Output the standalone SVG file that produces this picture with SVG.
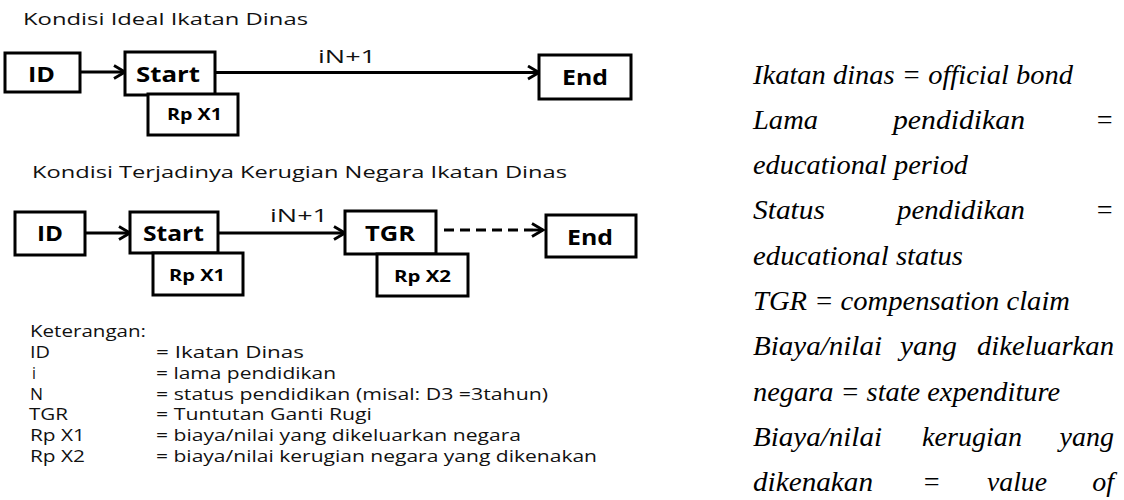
<svg xmlns="http://www.w3.org/2000/svg" width="1124" height="500" viewBox="0 0 1124 500">
<style>
.box{fill:#fff;stroke:#000;stroke-width:3}
.lbl{font-family:"Open Sans","DejaVu Sans",sans-serif;font-weight:bold;fill:#000}
.t{font-family:"Open Sans","DejaVu Sans",sans-serif;fill:#111}
.leg{font-family:"Open Sans","DejaVu Sans",sans-serif;font-size:15.5px;fill:#111}
.it{font-family:"Liberation Serif","DejaVu Serif",serif;font-style:italic;font-size:28px;fill:#000}
.conn{stroke:#000;stroke-width:2.8;fill:none}
.dash{stroke-dasharray:10 6}
</style>
<defs>
<marker id="arr" markerUnits="userSpaceOnUse" markerWidth="16" markerHeight="16" viewBox="0 0 16 16" refX="14" refY="8" orient="auto">
<path d="M3,1.5 L14,8 L3,14.5" fill="none" stroke="#000" stroke-width="2.8" stroke-linejoin="miter"/>
</marker>
</defs>
<rect width="1124" height="500" fill="#fff"/>

<text class="t" x="23" y="25" font-size="15.5" textLength="285" lengthAdjust="spacingAndGlyphs">Kondisi Ideal Ikatan Dinas</text>
<text class="t" x="32" y="178" font-size="16" textLength="535" lengthAdjust="spacingAndGlyphs">Kondisi Terjadinya Kerugian Negara Ikatan Dinas</text>

<g id="connectors">
<line class="conn" x1="80" y1="72" x2="125" y2="72" marker-end="url(#arr)"/>
<line class="conn" x1="215" y1="72.5" x2="539" y2="72.5" marker-end="url(#arr)"/>
<text class="t" x="318" y="63" font-size="18.5" textLength="58" lengthAdjust="spacingAndGlyphs">iN+1</text>
<line class="conn" x1="85" y1="233" x2="130" y2="233" marker-end="url(#arr)"/>
<line class="conn" x1="218" y1="233" x2="345" y2="233" marker-end="url(#arr)"/>
<text class="t" x="270" y="222" font-size="18.5" textLength="58" lengthAdjust="spacingAndGlyphs">iN+1</text>
<line class="conn dash" x1="444" y1="230" x2="533" y2="230"/>
<line class="conn" x1="533" y1="230" x2="543" y2="230" marker-end="url(#arr)"/>
</g>

<g id="r1-id"><rect class="box" x="5" y="53" width="75" height="39"/><text class="lbl" x="28" y="82" font-size="21" textLength="27" lengthAdjust="spacingAndGlyphs">ID</text></g>
<g id="r1-start"><rect class="box" x="125" y="52" width="90" height="43"/><text class="lbl" x="136" y="82" font-size="21" textLength="64" lengthAdjust="spacingAndGlyphs">Start</text></g>
<g id="r1-rpx1"><rect class="box" x="148" y="94" width="90" height="41"/><text class="lbl" x="167" y="119.5" font-size="16" textLength="55" lengthAdjust="spacingAndGlyphs">Rp X1</text></g>
<g id="r1-end"><rect class="box" x="539" y="55" width="92" height="44"/><text class="lbl" x="562" y="84.5" font-size="21" textLength="46" lengthAdjust="spacingAndGlyphs">End</text></g>

<g id="r2-id"><rect class="box" x="15" y="212" width="70" height="43"/><text class="lbl" x="37" y="240.5" font-size="21" textLength="26" lengthAdjust="spacingAndGlyphs">ID</text></g>
<g id="r2-start"><rect class="box" x="130" y="212" width="88" height="41"/><text class="lbl" x="143" y="240.5" font-size="21" textLength="61" lengthAdjust="spacingAndGlyphs">Start</text></g>
<g id="r2-rpx1"><rect class="box" x="153" y="253" width="90" height="42"/><text class="lbl" x="169" y="280.5" font-size="16" textLength="56" lengthAdjust="spacingAndGlyphs">Rp X1</text></g>
<g id="r2-tgr"><rect class="box" x="345" y="211" width="91" height="43"/><text class="lbl" x="365" y="240.5" font-size="21" textLength="50" lengthAdjust="spacingAndGlyphs">TGR</text></g>
<g id="r2-rpx2"><rect class="box" x="377" y="254" width="91" height="42"/><text class="lbl" x="394" y="282" font-size="16" textLength="57" lengthAdjust="spacingAndGlyphs">Rp X2</text></g>
<g id="r2-end"><rect class="box" x="546" y="215" width="90" height="42"/><text class="lbl" x="567" y="244.5" font-size="21" textLength="46" lengthAdjust="spacingAndGlyphs">End</text></g>

<g id="legend">
<text class="leg" x="30" y="337" textLength="116" lengthAdjust="spacingAndGlyphs">Keterangan:</text>
<text class="leg" x="30" y="358" textLength="20" lengthAdjust="spacingAndGlyphs">ID</text>
<text class="leg" x="32" y="379">i</text>
<text class="leg" x="30" y="400" textLength="13" lengthAdjust="spacingAndGlyphs">N</text>
<text class="leg" x="29" y="420" textLength="39" lengthAdjust="spacingAndGlyphs">TGR</text>
<text class="leg" x="30" y="441" textLength="55" lengthAdjust="spacingAndGlyphs">Rp X1</text>
<text class="leg" x="30" y="462" textLength="55" lengthAdjust="spacingAndGlyphs">Rp X2</text>
<text class="leg" x="156" y="358" textLength="148" lengthAdjust="spacingAndGlyphs">= Ikatan Dinas</text>
<text class="leg" x="156" y="379" textLength="180" lengthAdjust="spacingAndGlyphs">= lama pendidikan</text>
<text class="leg" x="156" y="400" textLength="392" lengthAdjust="spacingAndGlyphs">= status pendidikan (misal: D3 =3tahun)</text>
<text class="leg" x="156" y="420" textLength="216" lengthAdjust="spacingAndGlyphs">= Tuntutan Ganti Rugi</text>
<text class="leg" x="156" y="441" textLength="365" lengthAdjust="spacingAndGlyphs">= biaya/nilai yang dikeluarkan negara</text>
<text class="leg" x="156" y="462" textLength="441" lengthAdjust="spacingAndGlyphs">= biaya/nilai kerugian negara yang dikenakan</text>
</g>

<g id="translation">
<text class="it" x="753" y="84" textLength="320" lengthAdjust="spacingAndGlyphs">Ikatan dinas = official bond</text>
<text class="it" x="753" y="129" textLength="65" lengthAdjust="spacingAndGlyphs">Lama</text>
<text class="it" x="893" y="129" textLength="132" lengthAdjust="spacingAndGlyphs">pendidikan</text>
<text class="it" x="1114" y="129" text-anchor="end">=</text>
<text class="it" x="753" y="174" textLength="215" lengthAdjust="spacingAndGlyphs">educational period</text>
<text class="it" x="753" y="219" textLength="72" lengthAdjust="spacingAndGlyphs">Status</text>
<text class="it" x="897" y="219" textLength="128" lengthAdjust="spacingAndGlyphs">pendidikan</text>
<text class="it" x="1114" y="219" text-anchor="end">=</text>
<text class="it" x="753" y="265" textLength="210" lengthAdjust="spacingAndGlyphs">educational status</text>
<text class="it" x="753" y="310" textLength="317" lengthAdjust="spacingAndGlyphs">TGR = compensation claim</text>
<text class="it" x="753" y="355" textLength="129" lengthAdjust="spacingAndGlyphs">Biaya/nilai</text>
<text class="it" x="900" y="355" textLength="57" lengthAdjust="spacingAndGlyphs">yang</text>
<text class="it" x="977" y="355" textLength="137" lengthAdjust="spacingAndGlyphs">dikeluarkan</text>
<text class="it" x="753" y="401" textLength="307" lengthAdjust="spacingAndGlyphs">negara = state expenditure</text>
<text class="it" x="753" y="446" textLength="129" lengthAdjust="spacingAndGlyphs">Biaya/nilai</text>
<text class="it" x="922" y="446" textLength="100" lengthAdjust="spacingAndGlyphs">kerugian</text>
<text class="it" x="1114" y="446" text-anchor="end">yang</text>
<text class="it" x="753" y="491" textLength="120" lengthAdjust="spacingAndGlyphs">dikenakan</text>
<text class="it" x="922" y="491">=</text>
<text class="it" x="987" y="491" textLength="60" lengthAdjust="spacingAndGlyphs">value</text>
<text class="it" x="1114" y="491" text-anchor="end">of</text>
</g>
</svg>
